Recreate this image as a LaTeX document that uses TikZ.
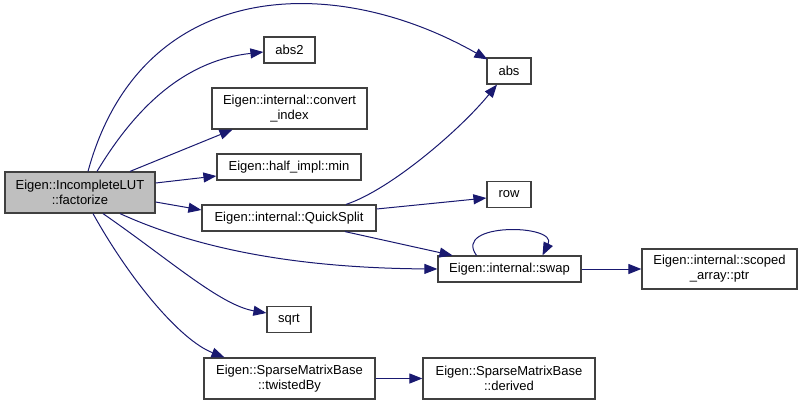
\documentclass[tikz,border=0pt]{standalone}
\usepackage{fontspec}
\setmainfont{Liberation Sans}
\usetikzlibrary{arrows.meta}
\definecolor{edgecol}{HTML}{191970}
\definecolor{boxcol}{HTML}{404040}
\definecolor{mainfill}{HTML}{BFBFBF}
\begin{document}
\begin{tikzpicture}[x=1pt,y=-1pt,
  box/.style={draw=boxcol, line width=1.2pt, fill=white, inner sep=0pt, align=center,
    font=\fontsize{13}{15}\selectfont, text=black},
  edge/.style={draw=edgecol, line width=1pt, -{Triangle[length=13pt,width=10pt]}}]
\useasboundingbox (0,0) rectangle (803,404);
\node[box, fill=mainfill, minimum width=150pt, minimum height=41pt] (main) at (80,192.5) {Eigen::IncompleteLUT\\::factorize};
\node[box, minimum width=51pt, minimum height=26pt] (abs2) at (289.5,50) {abs2};
\node[box, minimum width=155pt, minimum height=41pt] (convert) at (289.5,108.5) {Eigen::internal::convert\\\_index};
\node[box, minimum width=144pt, minimum height=26pt] (min) at (289,167) {Eigen::half\_impl::min};
\node[box, minimum width=174pt, minimum height=26pt] (qs) at (289,218) {Eigen::internal::QuickSplit};
\node[box, minimum width=44pt, minimum height=26pt] (sqrt) at (289,319.5) {sqrt};
\node[box, minimum width=171pt, minimum height=41pt] (twisted) at (289.5,378.5) {Eigen::SparseMatrixBase\\::twistedBy};
\node[box, minimum width=44pt, minimum height=26pt] (abs) at (509,71) {abs};
\node[box, minimum width=44pt, minimum height=26pt] (row) at (509,194.5) {row};
\node[box, minimum width=143pt, minimum height=26pt] (swap) at (509.5,269) {Eigen::internal::swap};
\node[box, minimum width=155pt, minimum height=40pt] (ptr) at (719.5,269) {Eigen::internal::scoped\\\_array::ptr};
\node[box, minimum width=172pt, minimum height=41pt] (derived) at (509,378.5) {Eigen::SparseMatrixBase\\::derived};

\draw[edge] ([xshift=8]main.north) .. controls (140,-20) and (330,-30) .. ([xshift=1,yshift=-2]abs.north west);
\draw[edge] ([xshift=17]main.north) .. controls (140,100) and (190,60) .. ([yshift=-2]abs2.west);
\draw[edge] ([xshift=50]main.north) -- ([xshift=-57]convert.south);
\draw[edge] ([yshift=9.5]main.east) -- ([yshift=-9]min.west);
\draw[edge] ([yshift=-9.5]main.east) -- ([yshift=8]qs.west);
\draw[edge] ([xshift=40]main.south) .. controls (200,250) and (300,268) .. (swap.west);
\draw[edge] ([xshift=23]main.south) .. controls (170,260) and (220,305) .. ([yshift=6.5]sqrt.west);
\draw[edge] ([xshift=13]main.south) .. controls (130,280) and (180,340) .. ([xshift=-65]twisted.north);
\draw[edge] ([xshift=57]qs.north) .. controls (390,190) and (460,130) .. ([xshift=-12]abs.south);
\draw[edge] ([yshift=9]qs.east) -- ([yshift=-3.5]row.west);
\draw[edge] ([xshift=56]qs.south) -- ([xshift=-57]swap.north);
\draw[edge] ([xshift=-33]swap.north) .. controls (452,222) and (558,224) .. ([xshift=33]swap.north);
\draw[edge] (swap.east) -- (ptr.west);
\draw[edge] (twisted.east) -- (derived.west);
\end{tikzpicture}
\end{document}
